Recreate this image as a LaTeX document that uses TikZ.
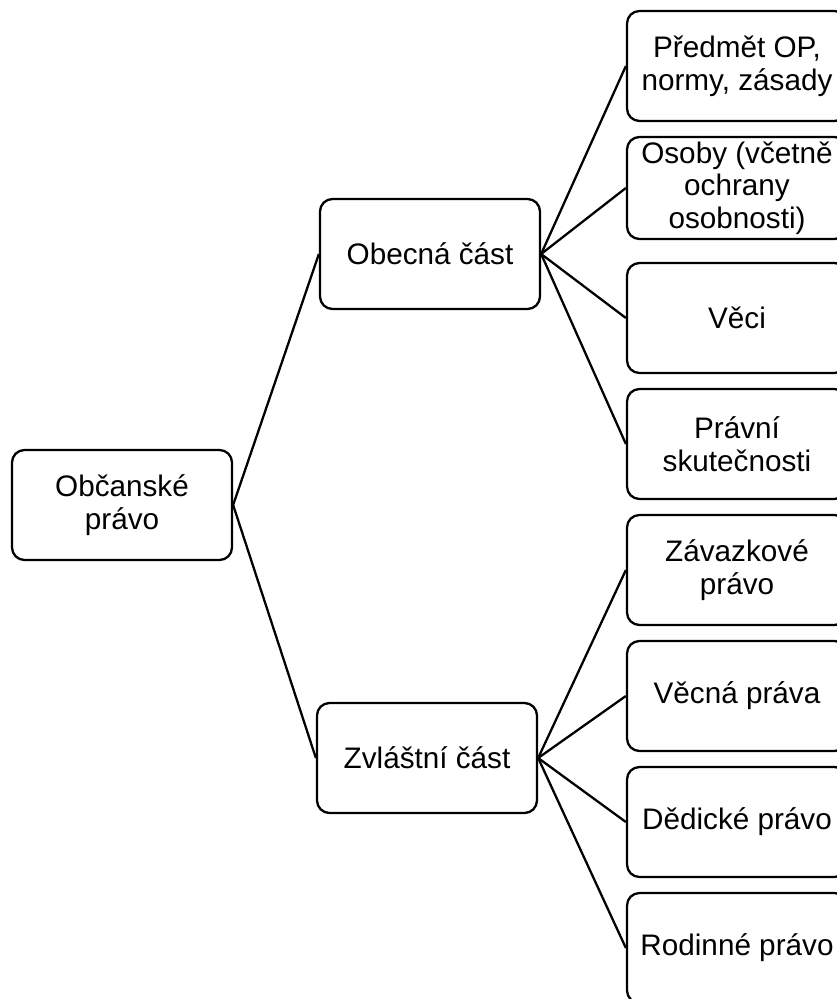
\documentclass[tikz,border=0pt]{standalone}
\usepackage{fontspec}
\setmainfont{Liberation Sans}
\usetikzlibrary{calc}
\newcommand{\CivilLawPx}{0.02}

\begin{document}
\begin{tikzpicture}[x=\CivilLawPx cm, y=-\CivilLawPx cm,
    lawbox/.style={draw, line width=1.3pt, rounded corners=0.25cm,
                   minimum width=220*\CivilLawPx cm, minimum height=110*\CivilLawPx cm,
                   align=center, inner sep=2pt, font=\fontsize{16.9}{18.6}\selectfont},
    branch/.style={line width=1.3pt}]
    \useasboundingbox (0,0) rectangle (837,999);

    % draw root and the two parts
    \node[lawbox] (civil) at (122,505) {Občanské\\právo};
    \node[lawbox] (general) at (430,254) {Obecná část};
    \node[lawbox] (special) at (427,758) {Zvláštní část};

    % draw topics of the general part
    \node[lawbox] (subject) at (737,66) {Předmět OP,\\normy, zásady};
    \node[lawbox, minimum height=102*\CivilLawPx cm] (persons) at (737,188) {Osoby (včetně\\ochrany\\osobnosti)};
    \node[lawbox] (things) at (737,318) {Věci};
    \node[lawbox] (facts) at (737,444) {Právní\\skutečnosti};

    % draw topics of the special part
    \node[lawbox] (obligations) at (737,570) {Závazkové\\právo};
    \node[lawbox] (property) at (737,696) {Věcná práva};
    \node[lawbox] (inheritance) at (737,822) {Dědické právo};
    \node[lawbox] (family) at (737,948) {Rodinné právo};

    % draw branches
    \draw[branch] (civil.east) -- (general.west);
    \draw[branch] (civil.east) -- (special.west);
    \draw[branch] (general.east) -- (subject.west);
    \draw[branch] (general.east) -- (persons.west);
    \draw[branch] (general.east) -- (things.west);
    \draw[branch] (general.east) -- (facts.west);
    \draw[branch] (special.east) -- (obligations.west);
    \draw[branch] (special.east) -- (property.west);
    \draw[branch] (special.east) -- (inheritance.west);
    \draw[branch] (special.east) -- (family.west);
\end{tikzpicture}
\end{document}
